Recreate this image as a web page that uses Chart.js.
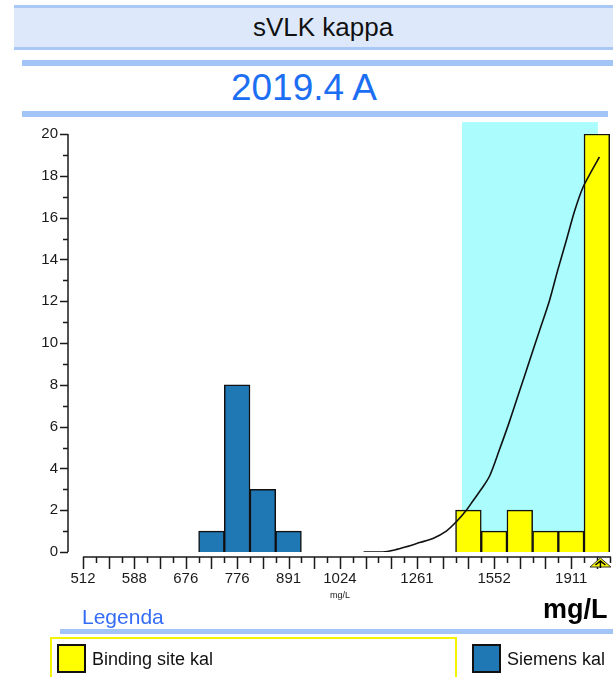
<!DOCTYPE html>
<html>
<head>
<meta charset="utf-8">
<title>sVLK kappa</title>
<script src="https://cdn.jsdelivr.net/npm/chart.js@4/dist/chart.umd.min.js"></script>
<style>
  html, body { margin: 0; padding: 0; background: #fff; }
  body {
    width: 613px; height: 677px; position: relative; overflow: hidden;
    font-family: "Liberation Sans", Arial, sans-serif;
  }
  .head-band {
    position: absolute; left: 14px; width: 620px; top: 5px; height: 39px;
    background: #dde9fb; border-top: 3px solid #a9c8f6; border-bottom: 3px solid #a9c8f6;
  }
  .head-title {
    position: absolute; left: 14px; width: 618px; top: 12px;
    text-align: center; font-size: 26px; color: #111; line-height: 30px;
  }
  .rule { position: absolute; height: 6px; background: #a2c4f7; }
  .sample {
    position: absolute; left: 154px; width: 300px; top: 68px;
    text-align: center; font-size: 37px; line-height: 40px; color: #1c6ef2;
  }
  #chartWrap { position: absolute; left: 0; top: 118px; width: 613px; height: 490px; }
  .unit-big {
    position: absolute; left: 543px; top: 594px; font-size: 27px; font-weight: bold;
    color: #000; line-height: 30px; white-space: nowrap;
  }
  .legend-title {
    position: absolute; left: 82px; top: 604px; font-size: 21px; color: #356cf5; line-height: 26px;
  }
  .legend-box {
    position: absolute; left: 50px; top: 637px; width: 403px; height: 60px;
    border: 2px solid #f4f400;
  }
  .legend-item { position: absolute; top: 644px; font-size: 18px; line-height: 30px; color: #111; white-space: nowrap; }
  .swatch {
    display: inline-block; width: 25px; height: 25px; border: 2px solid #111;
    vertical-align: middle; margin-right: 6px; position: relative; top: -2px;
  }
</style>
</head>
<body>
  <div class="head-band"></div>
  <div class="head-title">sVLK kappa</div>
  <div class="rule" style="left:22px; width:600px; top:60px;"></div>
  <div class="sample">2019.4 A</div>
  <div class="rule" style="left:22px; width:586px; top:111px;"></div>

  <div id="chartWrap"><canvas id="chart" width="613" height="490"></canvas></div>

  <div class="unit-big">mg/L</div>
  <div class="legend-title">Legenda</div>
  <div class="rule" style="left:60px; width:560px; top:629px; height:5px;"></div>
  <div class="legend-box"></div>
  <div class="legend-item" style="left:57px;"><span class="swatch" style="background:#ffff00"></span>Binding site kal</div>
  <div class="legend-item" style="left:472px;"><span class="swatch" style="background:#1f77b4"></span>Siemens kal</div>

<script>
// Histogram bins sit on a log2 axis: one bin per 1/10 doubling, bin 0 = 512 mg/L.
const binTickIdx    = [0, 2, 4, 6, 8, 10, 13, 16, 19];
const binTickLabels = ['512', '588', '676', '776', '891', '1024', '1261', '1552', '1911'];

// Laboratory counts per bin
const siemensBins   = [5, 6, 7, 8];
const siemensCounts = [1, 8, 3, 1];
const bindingBins   = [15, 16, 17, 18, 19, 20];
const bindingCounts = [2, 1, 2, 1, 1, 20];

// Cumulative curve (bin position, count scale)
const curveBins   = [10.92, 11.67, 12.13, 12.58, 13.10, 13.62, 14.14, 14.53, 14.92, 15.18, 15.50, 15.83,
                     16.21, 16.60, 16.99, 17.38, 17.77, 18.16, 18.48, 18.81, 19.13, 19.46, 19.78, 20.10];
const curveValues = [0, 0, 0.1, 0.25, 0.45, 0.65, 1.0, 1.45, 2.0, 2.45, 3.0, 3.65,
                     4.9, 6.25, 7.7, 9.15, 10.6, 12.05, 13.5, 14.9, 16.3, 17.45, 18.2, 18.9];

// Acceptance range (bin positions) and result marker
const rangeBins = [14.75, 20.04];
const rangeTop  = 20.57;
const resultBin = 20.1;

// Y axis ticks
const yMajorTicks = [0, 2, 4, 6, 8, 10, 12, 14, 16, 18, 20];
const yMax = 20;
const xMax = 20.55;

const toPoints = (xs, ys) => xs.map((x, i) => ({ x, y: ys[i] }));

const FONT = '"Liberation Sans", Arial, sans-serif';

// Light-blue acceptance band behind the bars
const rangeBand = {
  id: 'rangeBand',
  beforeDatasetsDraw(chart) {
    const { ctx, scales: { x, y } } = chart;
    const x0 = x.getPixelForValue(rangeBins[0]);
    const x1 = x.getPixelForValue(rangeBins[1]);
    const yTop = y.getPixelForValue(rangeTop);
    const yBot = y.getPixelForValue(0);
    ctx.save();
    ctx.fillStyle = '#abfdfd';
    ctx.fillRect(x0, yTop, x1 - x0, yBot - yTop);
    ctx.restore();
  }
};

// Detached axes: y axis left of the plot, x axis just below the baseline
const detachedAxes = {
  id: 'detachedAxes',
  afterDraw(chart) {
    const { ctx, scales: { x, y } } = chart;
    const axisX = x.left - 15;
    const axisY = y.getPixelForValue(0) + 5;
    ctx.save();
    ctx.strokeStyle = '#1a1a1a';
    ctx.lineWidth = 1.5;

    // y axis
    ctx.beginPath();
    ctx.moveTo(axisX, y.getPixelForValue(yMax));
    ctx.lineTo(axisX, y.getPixelForValue(0));
    for (let v = 0; v <= yMax; v++) {
      const py = Math.round(y.getPixelForValue(v)) + 0.5;
      const len = (v % 2 === 0) ? 8 : 5;
      ctx.moveTo(axisX - len, py);
      ctx.lineTo(axisX, py);
    }
    ctx.stroke();
    ctx.fillStyle = '#1a1a1a';
    ctx.font = '15px ' + FONT;
    ctx.textAlign = 'right';
    ctx.textBaseline = 'middle';
    yMajorTicks.forEach(v => ctx.fillText(String(v), axisX - 10, y.getPixelForValue(v)));

    // x axis
    ctx.beginPath();
    ctx.moveTo(x.left, axisY);
    ctx.lineTo(x.right, axisY);
    for (let b = 0; b <= xMax; b += 0.5) {
      const px = Math.round(x.getPixelForValue(b)) + 0.5;
      const len = Number.isInteger(b) ? 12 : 6;
      ctx.moveTo(px, axisY);
      ctx.lineTo(px, axisY + len);
    }
    ctx.stroke();
    ctx.font = '15px ' + FONT;
    ctx.textAlign = 'center';
    binTickIdx.forEach((b, i) => ctx.fillText(binTickLabels[i], x.getPixelForValue(b), axisY + 22));
    ctx.font = '9px ' + FONT;
    ctx.fillText('mg/L', x.getPixelForValue(10), axisY + 39);

    // result marker under the axis
    const mx = x.getPixelForValue(resultBin) + 1;
    ctx.beginPath();
    ctx.moveTo(mx, axisY + 1);
    ctx.lineTo(mx + 10.5, axisY + 10);
    ctx.lineTo(mx - 10.5, axisY + 10);
    ctx.closePath();
    ctx.fillStyle = '#ffff00';
    ctx.fill();
    ctx.lineWidth = 1;
    ctx.strokeStyle = '#333';
    ctx.stroke();
    ctx.beginPath();
    ctx.lineWidth = 1.5;
    ctx.strokeStyle = '#000';
    ctx.moveTo(mx - 5, axisY + 8);
    ctx.lineTo(mx, axisY + 4);
    ctx.lineTo(mx + 5, axisY + 8);
    ctx.moveTo(mx, axisY + 4);
    ctx.lineTo(mx, axisY + 11);
    ctx.stroke();
    ctx.restore();
  }
};

new Chart(document.getElementById('chart'), {
  type: 'bar',
  data: {
    datasets: [
      {
        label: 'Cumulative',
        type: 'line',
        data: toPoints(curveBins, curveValues),
        borderColor: '#111',
        borderWidth: 1.6,
        pointRadius: 0,
        tension: 0.3,
        fill: false,
        order: 0
      },
      {
        label: 'Binding site kal',
        data: toPoints(bindingBins, bindingCounts),
        backgroundColor: '#ffff00',
        borderColor: '#111',
        borderWidth: 1.5,
        barPercentage: 1,
        categoryPercentage: 1,
        grouped: false,
        order: 1
      },
      {
        label: 'Siemens kal',
        data: toPoints(siemensBins, siemensCounts),
        backgroundColor: '#1f77b4',
        borderColor: '#111',
        borderWidth: 1.5,
        barPercentage: 1,
        categoryPercentage: 1,
        grouped: false,
        order: 1
      }
    ]
  },
  options: {
    responsive: false,
    animation: false,
    layout: { padding: { left: 83, right: 2, top: 16, bottom: 56 } },
    scales: {
      x: { type: 'linear', min: 0, max: xMax, offset: false, display: false },
      y: { type: 'linear', min: 0, max: yMax, display: false }
    },
    plugins: {
      legend: { display: false },
      tooltip: { enabled: false }
    }
  },
  plugins: [rangeBand, detachedAxes]
});
</script>
</body>
</html>
